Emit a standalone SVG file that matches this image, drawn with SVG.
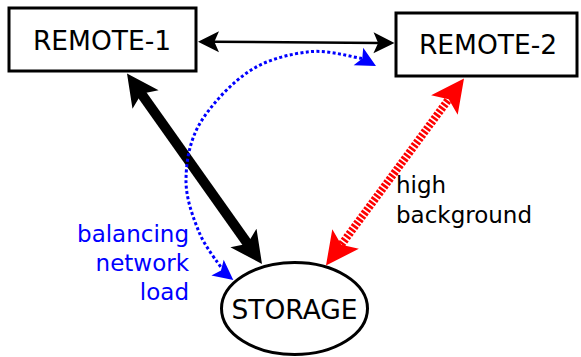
<svg xmlns="http://www.w3.org/2000/svg" xmlns:xlink="http://www.w3.org/1999/xlink" width="581" height="357" viewBox="0 0 581 357">
  <style>
    .box { fill: #ffffff; stroke: #000000; stroke-width: 3; }
    .node-label { font-family: "DejaVu Sans", "Liberation Sans", sans-serif; font-size: 26.5px; fill: #000000; text-anchor: middle; }
    .note { font-family: "DejaVu Sans", "Liberation Sans", sans-serif; font-size: 23px; }
    .thin { fill: none; stroke: #000000; stroke-width: 2.6; }
    .thick { fill: none; stroke: #000000; stroke-width: 10; }
    .striped { fill: none; stroke: #ff0000; stroke-width: 8; stroke-dasharray: 2.6 1.6; }
    .dotted { fill: none; stroke: #0000ff; stroke-width: 3; stroke-dasharray: 3 2.4; }
  </style>
  <defs>
    <!-- notched arrowhead, unit length, tip at origin pointing along +x -->
    <path id="head" d="M0,0 L-1,-0.5 L-0.78,0 L-1,0.5 Z"/>
  </defs>

  <g id="connectors">
    <!-- REMOTE-1 <-> REMOTE-2 -->
    <g id="link-remotes" fill="#000000">
      <path class="thin" d="M212.7,41.7 L379.8,43"/>
      <use xlink:href="#head" transform="translate(198,41.7) rotate(180) scale(21)"/>
      <use xlink:href="#head" transform="translate(394.5,43) rotate(0.4) scale(21)"/>
    </g>
    <!-- REMOTE-1 <-> STORAGE -->
    <g id="link-remote1-storage" fill="#000000">
      <path class="thick" d="M140,91.8 L249,245.7"/>
      <use xlink:href="#head" transform="translate(127,73.5) rotate(234.6) scale(32)"/>
      <use xlink:href="#head" transform="translate(262,264) rotate(54.6) scale(32)"/>
    </g>
    <!-- REMOTE-2 <-> STORAGE, high background -->
    <g id="link-remote2-storage" fill="#ff0000">
      <path class="striped" d="M450.3,97.1 L339.7,246.9"/>
      <use xlink:href="#head" transform="translate(464,78.5) rotate(-53.6) scale(33)"/>
      <use xlink:href="#head" transform="translate(326,265.5) rotate(126.4) scale(33)"/>
    </g>
    <!-- balancing network load -->
    <g id="link-balancing" fill="#0000ff">
      <path class="dotted" d="M362,58.5 C353.3,57.4 328.7,49.7 310,51.7 C291.3,53.7 268.3,58.8 250,70.7 C231.7,82.6 210.7,105.1 200,123.3 C189.3,141.5 186.2,161.9 186,180 C185.8,198.1 193,217.2 199,232 C205,246.8 218.2,262.8 222,269"/>
      <use xlink:href="#head" transform="translate(376,66) rotate(28.5) scale(20)"/>
      <use xlink:href="#head" transform="translate(233.3,280) rotate(38) scale(20)"/>
    </g>
  </g>

  <g id="remote-1">
    <rect class="box" x="9" y="8" width="187" height="63"/>
    <text class="node-label" x="102" y="49.5">REMOTE-1</text>
  </g>

  <g id="remote-2">
    <rect class="box" x="396" y="13" width="181" height="63"/>
    <text class="node-label" x="488" y="53.5">REMOTE-2</text>
  </g>

  <g id="storage">
    <ellipse class="box" cx="294.5" cy="308.5" rx="73" ry="46"/>
    <text class="node-label" x="294.5" y="318.5">STORAGE</text>
  </g>

  <g id="label-background">
    <text class="note" fill="#000000" x="396" y="193.3">high</text>
    <text class="note" fill="#000000" x="396" y="222.7">background</text>
  </g>

  <g id="label-balancing">
    <text class="note" fill="#0000ff" text-anchor="end" x="189" y="241.7">balancing</text>
    <text class="note" fill="#0000ff" text-anchor="end" x="189" y="270.7">network</text>
    <text class="note" fill="#0000ff" text-anchor="end" x="189" y="300">load</text>
  </g>
</svg>
